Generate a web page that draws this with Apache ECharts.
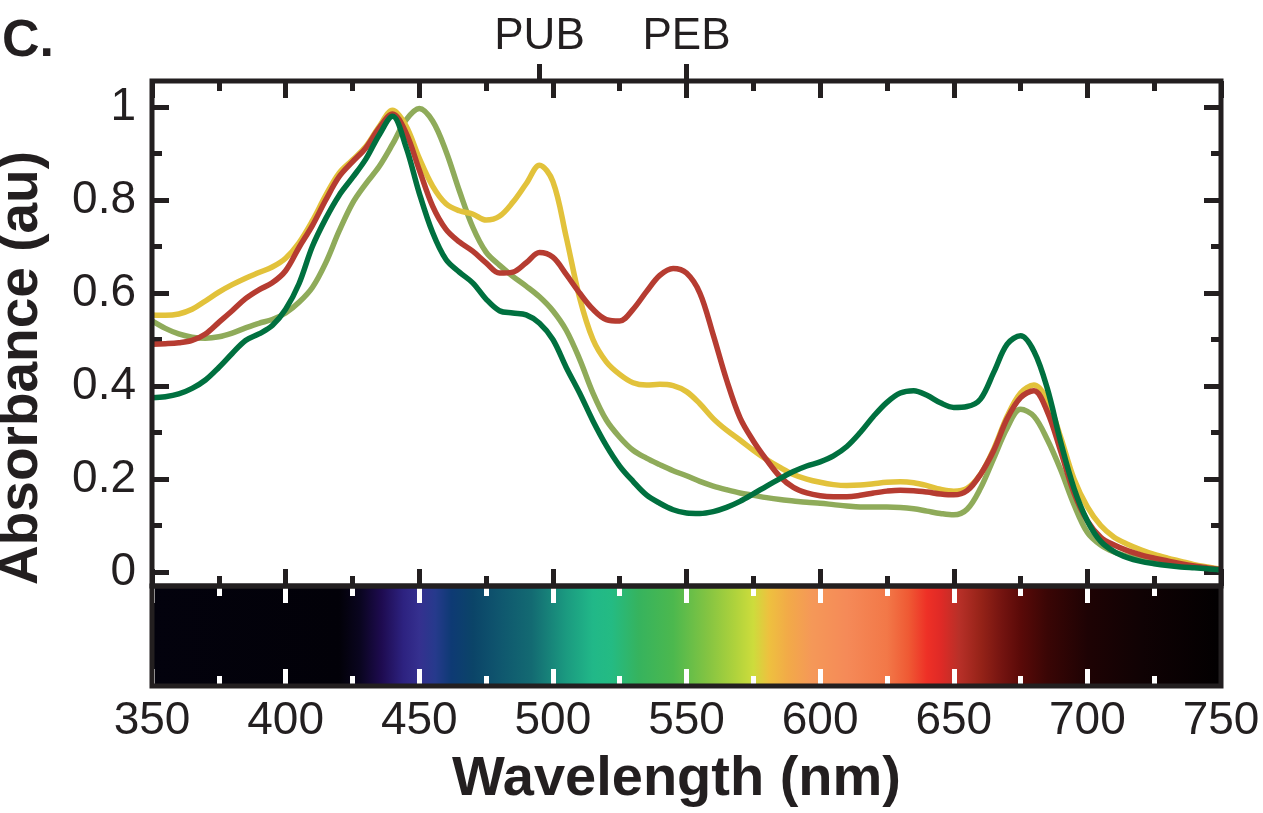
<!DOCTYPE html>
<html>
<head>
<meta charset="utf-8">
<title>Absorbance spectra</title>
<script src="https://cdn.jsdelivr.net/npm/echarts@6/dist/echarts.min.js"></script>
<style>
  html, body { margin: 0; padding: 0; background: #fff; }
  #chart { width: 1263px; height: 813px; }
</style>
</head>
<body>
<div id="chart"></div>
<script>
// wavelength grid (nm) shared by all four spectra
const wavelengths = [
  350, 355, 360, 365, 370, 375, 380, 385, 390, 395,
  400, 405, 410, 415, 420, 425, 430, 435, 440, 445,
  450, 455, 460, 465, 470, 475, 480, 485, 490, 495,
  500, 505, 510, 515, 520, 525, 530, 535, 540, 545,
  550, 555, 560, 565, 570, 575, 580, 585, 590, 595,
  600, 605, 610, 615, 620, 625, 630, 635, 640, 645,
  650, 655, 660, 665, 670, 675, 680, 685, 690, 695,
  700, 705, 710, 715, 720, 725, 730, 735, 740, 745,
  750
]

const yellowAbs = [
  0.553, 0.552, 0.555, 0.565, 0.583, 0.602, 0.618, 0.632, 0.644, 0.656,
  0.675, 0.708, 0.755, 0.810, 0.858, 0.886, 0.915, 0.958, 0.993, 0.960,
  0.890, 0.830, 0.792, 0.777, 0.770, 0.757, 0.765, 0.795, 0.835, 0.875,
  0.840, 0.720, 0.590, 0.500, 0.452, 0.425, 0.407, 0.402, 0.404, 0.401,
  0.388, 0.362, 0.330, 0.305, 0.284, 0.262, 0.242, 0.225, 0.210, 0.200,
  0.193, 0.188, 0.186, 0.187, 0.190, 0.193, 0.194, 0.192, 0.186, 0.178,
  0.174, 0.180, 0.210, 0.265, 0.335, 0.385, 0.402, 0.370, 0.290, 0.200,
  0.140, 0.100, 0.075, 0.060, 0.048, 0.038, 0.030, 0.023, 0.016, 0.011,
  0.006
]

const redAbs = [
  0.490, 0.491, 0.493, 0.498, 0.512, 0.537, 0.562, 0.588, 0.607, 0.622,
  0.648, 0.698, 0.745, 0.800, 0.850, 0.882, 0.912, 0.955, 0.985, 0.945,
  0.865, 0.787, 0.737, 0.710, 0.690, 0.665, 0.643, 0.645, 0.665, 0.687,
  0.677, 0.640, 0.600, 0.565, 0.543, 0.540, 0.565, 0.603, 0.638, 0.653,
  0.643, 0.600, 0.510, 0.413, 0.332, 0.282, 0.241, 0.205, 0.182, 0.170,
  0.164, 0.162, 0.162, 0.165, 0.170, 0.174, 0.176, 0.175, 0.172, 0.168,
  0.166, 0.175, 0.210, 0.262, 0.330, 0.375, 0.390, 0.345, 0.260, 0.170,
  0.110, 0.075, 0.058, 0.046, 0.037, 0.030, 0.024, 0.018, 0.013, 0.009,
  0.005
]

const oliveAbs = [
  0.540, 0.524, 0.512, 0.505, 0.503, 0.506, 0.514, 0.525, 0.535, 0.543,
  0.557, 0.580, 0.612, 0.665, 0.733, 0.793, 0.835, 0.872, 0.920, 0.972,
  0.997, 0.970, 0.905, 0.820, 0.742, 0.688, 0.660, 0.636, 0.615, 0.592,
  0.562, 0.520, 0.458, 0.385, 0.327, 0.290, 0.262, 0.245, 0.231, 0.218,
  0.207, 0.195, 0.185, 0.177, 0.170, 0.165, 0.160, 0.156, 0.153, 0.150,
  0.148, 0.145, 0.142, 0.140, 0.140, 0.140, 0.139, 0.136, 0.131, 0.126,
  0.123, 0.135, 0.180, 0.245, 0.310, 0.350, 0.335, 0.285, 0.220, 0.145,
  0.085, 0.058, 0.043, 0.034, 0.027, 0.022, 0.018, 0.014, 0.011, 0.008,
  0.005
]

const greenAbs = [
  0.375, 0.377, 0.383, 0.395, 0.413, 0.440, 0.470, 0.498, 0.512, 0.530,
  0.565, 0.620, 0.700, 0.760, 0.810, 0.848, 0.888, 0.940, 0.980, 0.915,
  0.815, 0.730, 0.672, 0.645, 0.622, 0.587, 0.562, 0.557, 0.553, 0.535,
  0.500, 0.440, 0.385, 0.325, 0.272, 0.228, 0.195, 0.166, 0.148, 0.134,
  0.127, 0.126, 0.130, 0.139, 0.152, 0.168, 0.185, 0.201, 0.216, 0.228,
  0.237, 0.250, 0.270, 0.300, 0.335, 0.365, 0.385, 0.390, 0.380, 0.364,
  0.354, 0.356, 0.372, 0.430, 0.490, 0.508, 0.475, 0.395, 0.280, 0.180,
  0.110, 0.066, 0.044, 0.031, 0.023, 0.018, 0.014, 0.011, 0.009, 0.007,
  0.005
]

// chromophore markers on the top axis
const pigmentNames = ['PUB', 'PEB']
const pigmentWavelengths = [495, 550]

// visible spectrum strip under the plot
const spectrumWavelengths = [
  350, 420, 428, 436, 444, 450, 456, 462, 470, 480,
  492, 505, 515, 522, 532, 545, 558, 568, 575, 581,
  588, 597, 610, 625, 633, 640, 645, 652, 660, 668,
  675, 685, 700, 720, 750
]
const spectrumColors = [
  '#03020d', '#020108', '#0a0520', '#1e0b50', '#2d2280', '#35308f', '#263a8c', '#0e3a74', '#0b4468', '#0f566e',
  '#136a72', '#1b9a80', '#21b888', '#24bb83', '#36b35e', '#4cb84e', '#84c442', '#aed23c', '#cddc3c', '#eec03f',
  '#f2aa48', '#f59858', '#f58a58', '#f27848', '#ef5a34', '#ee3026', '#e02a26', '#b83028', '#962318', '#741410',
  '#5a0a08', '#3a0605', '#1e0304', '#100204', '#020001'
]

const xMin = 350
const xMax = 750
const INK = '#231f20'
const FONT = '"Liberation Sans", Arial, Helvetica, sans-serif'

const chart = echarts.init(document.getElementById('chart'), null, { renderer: 'canvas' })

const toPairs = vals => wavelengths.map((w, i) => [w, vals[i]])

const blackTick = { show: true, inside: true, length: 17, lineStyle: { color: INK, width: 5 } }
const blackMinor = { show: true, splitNumber: 2, length: 10, lineStyle: { color: INK, width: 5 } }
const whiteTick = { show: true, inside: true, length: 17, lineStyle: { color: '#ffffff', width: 5 } }
const whiteMinor = { show: true, splitNumber: 2, length: 10, lineStyle: { color: '#ffffff', width: 5 } }
const noLine = { show: false, onZero: false }

function spectrumItem(params, api) {
  const start = api.value(0)
  const end = api.value(1)
  const p0 = api.coord([start, 1])
  const p1 = api.coord([end, 0])
  const stops = spectrumWavelengths.map((w, i) => ({
    offset: (w - start) / (end - start),
    color: spectrumColors[i],
  }))
  return {
    type: 'rect',
    shape: { x: p0[0], y: p0[1], width: p1[0] - p0[0], height: p1[1] - p0[1] },
    style: { fill: new echarts.graphic.LinearGradient(0, 0, 1, 0, stops) },
  }
}

const lineSeries = (name, color, vals) => ({
  name,
  type: 'line',
  xAxisIndex: 0,
  yAxisIndex: 0,
  data: toPairs(vals),
  smooth: 0.35,
  showSymbol: false,
  lineStyle: { color, width: 5.5 },
  itemStyle: { color },
  z: 2,
})

const option = {
  backgroundColor: '#ffffff',
  animation: false,
  textStyle: { fontFamily: FONT, color: INK },
  graphic: [
    {
      type: 'text',
      left: 2,
      top: 16,
      style: { text: 'C.', font: 'bold 52px ' + FONT, fill: INK },
    },
    {
      type: 'text',
      x: 22,
      y: 368,
      rotation: Math.PI / 2,
      style: {
        text: 'Absorbance (au)',
        font: 'bold 55px ' + FONT,
        fill: INK,
        align: 'center',
        verticalAlign: 'middle',
      },
    },
  ],
  grid: [
    // plot frame
    { left: 152, right: 42, top: 81, bottom: 227, show: true, borderColor: INK, borderWidth: 5, backgroundColor: 'transparent', z: 6 },
    // y ticks 0..1
    { left: 152, right: 42, top: 107, bottom: 241, show: false },
    // spectrum strip
    { left: 152, right: 42, top: 586, bottom: 127, show: true, borderColor: INK, borderWidth: 5, backgroundColor: 'transparent', z: 6 },
  ],
  xAxis: [
    {
      gridIndex: 0, type: 'value', position: 'bottom', min: xMin, max: xMax, interval: 50,
      axisLine: noLine, splitLine: { show: false }, axisLabel: { show: false },
      axisTick: blackTick, minorTick: blackMinor,
    },
    {
      gridIndex: 0, type: 'value', position: 'top', min: xMin, max: xMax, interval: 50,
      axisLine: noLine, splitLine: { show: false }, axisLabel: { show: false },
      axisTick: blackTick, minorTick: blackMinor,
    },
    {
      gridIndex: 0, type: 'value', position: 'top', min: xMin, max: xMax,
      axisLine: noLine, splitLine: { show: false },
      axisTick: { show: true, inside: false, length: 17, lineStyle: { color: INK, width: 5 }, customValues: pigmentWavelengths },
      axisLabel: {
        show: true,
        customValues: pigmentWavelengths,
        formatter: v => pigmentNames[pigmentWavelengths.indexOf(v)] || '',
        fontSize: 44,
        color: INK,
        margin: 22,
      },
    },
    { gridIndex: 1, type: 'value', min: xMin, max: xMax, show: false },
    {
      gridIndex: 2, type: 'value', position: 'bottom', min: xMin, max: xMax, interval: 50,
      axisLine: noLine, splitLine: { show: false },
      axisTick: whiteTick, minorTick: whiteMinor,
      axisLabel: { show: true, fontSize: 46, color: INK, margin: 12 },
      name: 'Wavelength (nm)',
      nameLocation: 'middle',
      nameGap: 66,
      nameTextStyle: { fontSize: 56, fontWeight: 'bold', color: INK, padding: [0, 20, 0, 0] },
      z: 5,
    },
    {
      gridIndex: 2, type: 'value', position: 'top', min: xMin, max: xMax, interval: 50,
      axisLine: noLine, splitLine: { show: false }, axisLabel: { show: false },
      axisTick: whiteTick, minorTick: whiteMinor,
      z: 5,
    },
  ],
  yAxis: [
    { gridIndex: 0, type: 'value', min: -0.03, max: 1.056, show: false },
    {
      gridIndex: 1, type: 'value', position: 'left', min: 0, max: 1, interval: 0.2,
      axisLine: noLine, splitLine: { show: false },
      axisTick: blackTick, minorTick: blackMinor,
      axisLabel: { show: true, fontSize: 46, color: INK, margin: 16 },
    },
    {
      gridIndex: 1, type: 'value', position: 'right', min: 0, max: 1, interval: 0.2,
      axisLine: noLine, splitLine: { show: false }, axisLabel: { show: false },
      axisTick: blackTick, minorTick: blackMinor,
    },
    { gridIndex: 2, type: 'value', min: 0, max: 1, show: false },
  ],
  series: [
    {
      name: 'spectrum',
      type: 'custom',
      xAxisIndex: 4,
      yAxisIndex: 3,
      encode: { x: [0, 1] },
      data: [[xMin, xMax]],
      renderItem: spectrumItem,
      silent: true,
      z: 2,
    },
    lineSeries('olive', '#8fab5a', oliveAbs),
    lineSeries('yellow', '#e2c23b', yellowAbs),
    lineSeries('red', '#b63c31', redAbs),
    lineSeries('green', '#00703f', greenAbs),
  ],
}

chart.setOption(option)
</script>
</body>
</html>
